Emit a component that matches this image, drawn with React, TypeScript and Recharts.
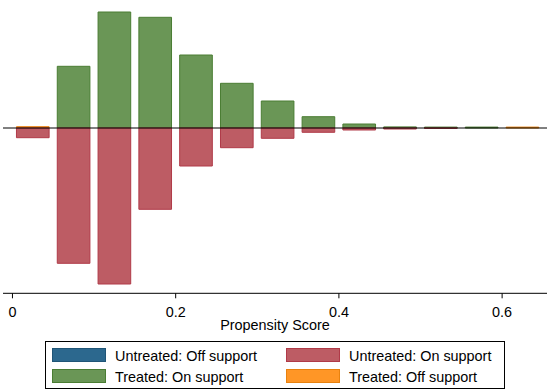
import React from 'react';
import { BarChart, Bar, XAxis, YAxis, ReferenceLine } from 'recharts';

// bin centres of the propensity score histogram (bin width 0.05)
const binCenters = [0.025, 0.075, 0.125, 0.175, 0.225, 0.275, 0.325, 0.375, 0.425, 0.475, 0.525, 0.575, 0.625];

// bar heights (arbitrary density units), treated above zero, untreated below
const treatedOnSupport = [0, 61.7, 116, 110.7, 73, 44.7, 27, 11.3, 4, 1.1, 0.9, 0.9, 0];
const treatedOffSupport = [1.3, 0, 0, 0, 0, 0, 0, 0, 0, 0, 0, 0, 0.9];
const untreatedOnSupport = [-9.7, -135.3, -156, -81.3, -38, -19.7, -10.3, -4.3, -2, -1, -0.4, 0, 0];
const untreatedOffSupport = [0, 0, 0, 0, 0, 0, 0, 0, 0, 0, 0, 0, 0];

const xTicks = [0, 0.2, 0.4, 0.6];
const X_DOMAIN: [number, number] = [-0.0116, 0.655];
const Y_DOMAIN: [number, number] = [-165.3, 128];

const COLORS = {
  untreatedOff: { fill: '#2c688e', stroke: '#1f5577' },
  untreatedOn: { fill: '#bd5c64', stroke: '#b03a48' },
  treatedOn: { fill: '#6a9656', stroke: '#4a7d33' },
  treatedOff: { fill: '#ff9626', stroke: '#e8820f' },
};

const FONT = '"Liberation Sans", Arial, sans-serif';

const data = binCenters.map((x, i) => ({
  x,
  treatedOn: treatedOnSupport[i],
  treatedOff: treatedOffSupport[i],
  untreatedOn: untreatedOnSupport[i],
  untreatedOff: untreatedOffSupport[i],
}));

const WIDTH = 550;
const HEIGHT = 392;
const MARGIN = { top: 0, right: 3, left: 3, bottom: 48.7 };
const plotWidth = WIDTH - MARGIN.left - MARGIN.right;
const barSize = (0.04 * plotWidth) / (X_DOMAIN[1] - X_DOMAIN[0]);

const legendItems = [
  { label: 'Untreated: Off support', ...COLORS.untreatedOff },
  { label: 'Untreated: On support', ...COLORS.untreatedOn },
  { label: 'Treated: On support', ...COLORS.treatedOn },
  { label: 'Treated: Off support', ...COLORS.treatedOff },
];

function AxisTitle(props: any) {
  const { viewBox } = props;
  return (
    <text
      x={viewBox.x + viewBox.width / 2}
      y={viewBox.y + 37}
      textAnchor="middle"
      fill="#000"
      fontSize={14.4}
      fontFamily={FONT}
    >
      Propensity Score
    </text>
  );
}

function LegendBox() {
  return (
    <div
      style={{
        position: 'absolute',
        left: 45,
        top: 341,
        width: 458,
        height: 46,
        border: '1px solid #000',
        background: '#fff',
        fontFamily: FONT,
        fontSize: 14.4,
        color: '#000',
      }}
    >
      {legendItems.map((item, i) => {
        const col = i % 2;
        const row = Math.floor(i / 2);
        const left = col === 0 ? 6 : 240;
        const top = row === 0 ? 6 : 26.5;
        return (
          <React.Fragment key={item.label}>
            <div
              style={{
                position: 'absolute',
                left,
                top,
                width: 52,
                height: 12,
                background: item.fill,
                border: `1px solid ${item.stroke}`,
              }}
            />
            <div
              style={{
                position: 'absolute',
                left: left + 63,
                top: top + 1,
                lineHeight: '14px',
                whiteSpace: 'nowrap',
              }}
            >
              {item.label}
            </div>
          </React.Fragment>
        );
      })}
    </div>
  );
}

export default function App() {
  return (
    <div style={{ position: 'absolute', left: 0, top: 0, width: WIDTH, height: HEIGHT, background: '#fff' }}>
      <BarChart width={WIDTH} height={HEIGHT} data={data} margin={MARGIN} stackOffset="sign">
        <XAxis
          dataKey="x"
          type="number"
          domain={X_DOMAIN}
          allowDataOverflow
          ticks={xTicks}
          tickFormatter={(v: number) => (v === 0 ? '0' : String(v))}
          tickSize={5}
          tickMargin={8}
          height={50}
          axisLine={{ stroke: '#000', strokeWidth: 1 }}
          tickLine={{ stroke: '#000', strokeWidth: 1 }}
          tick={{ fill: '#000', fontSize: 14.4, fontFamily: FONT }}
          label={<AxisTitle />}
        />
        <YAxis
          type="number"
          domain={Y_DOMAIN}
          allowDataOverflow
          width={0}
          tick={false}
          tickLine={false}
          axisLine={{ stroke: '#000', strokeWidth: 1 }}
        />
        <ReferenceLine y={0} stroke="#000" strokeWidth={1} />
        <Bar dataKey="treatedOn" stackId="a" barSize={barSize} fill={COLORS.treatedOn.fill} stroke={COLORS.treatedOn.stroke} strokeWidth={1} isAnimationActive={false} />
        <Bar dataKey="treatedOff" stackId="a" barSize={barSize} fill={COLORS.treatedOff.fill} stroke={COLORS.treatedOff.stroke} strokeWidth={1} isAnimationActive={false} />
        <Bar dataKey="untreatedOn" stackId="a" barSize={barSize} fill={COLORS.untreatedOn.fill} stroke={COLORS.untreatedOn.stroke} strokeWidth={1} isAnimationActive={false} />
        <Bar dataKey="untreatedOff" stackId="a" barSize={barSize} fill={COLORS.untreatedOff.fill} stroke={COLORS.untreatedOff.stroke} strokeWidth={1} isAnimationActive={false} />
      </BarChart>
      <LegendBox />
    </div>
  );
}
